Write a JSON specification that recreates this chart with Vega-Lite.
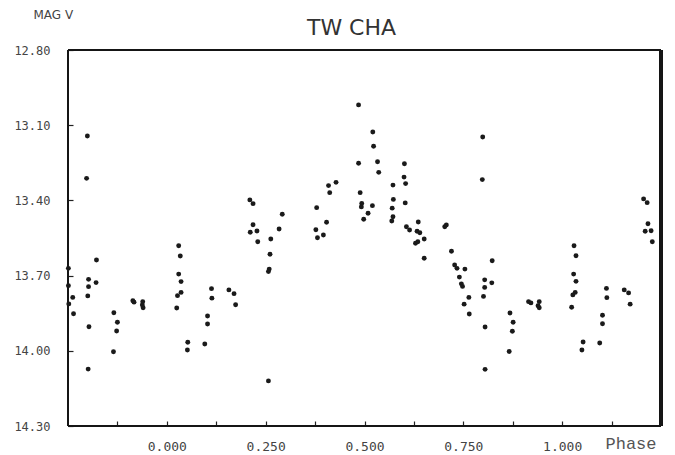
{
  "$schema": "https://vega.github.io/schema/vega-lite/v6.json",
  "width": 593,
  "height": 376,
  "autosize": "none",
  "padding": {"left": 68, "top": 50, "right": 14, "bottom": 29},
  "background": "white",
  "title": {
    "text": "TW CHA",
    "font": "DejaVu Sans",
    "fontSize": 22,
    "fontWeight": "normal",
    "color": "#333",
    "anchor": "middle",
    "dx": -13,
    "dy": 23,
    "offset": -26,
    "baseline": "alphabetic"
  },
  "data": {
    "values": [
      {"phase": -0.201, "mag": 13.143}, {"phase": -0.203, "mag": 13.312}, {"phase": -0.178, "mag": 13.638},
      {"phase": -0.249, "mag": 13.671}, {"phase": -0.198, "mag": 13.715}, {"phase": -0.198, "mag": 13.744},
      {"phase": -0.249, "mag": 13.740}, {"phase": -0.179, "mag": 13.728}, {"phase": -0.238, "mag": 13.787},
      {"phase": -0.200, "mag": 13.781}, {"phase": -0.248, "mag": 13.813}, {"phase": -0.236, "mag": 13.852},
      {"phase": -0.134, "mag": 13.848}, {"phase": -0.125, "mag": 13.886}, {"phase": -0.127, "mag": 13.921},
      {"phase": -0.135, "mag": 14.004}, {"phase": -0.197, "mag": 13.904}, {"phase": -0.199, "mag": 14.073},
      {"phase": -0.086, "mag": 13.800}, {"phase": -0.083, "mag": 13.806}, {"phase": -0.061, "mag": 13.804},
      {"phase": -0.062, "mag": 13.817}, {"phase": -0.060, "mag": 13.828}, {"phase": 0.030, "mag": 13.581},
      {"phase": 0.034, "mag": 13.622}, {"phase": 0.030, "mag": 13.694}, {"phase": 0.036, "mag": 13.724},
      {"phase": 0.036, "mag": 13.767}, {"phase": 0.027, "mag": 13.780}, {"phase": 0.025, "mag": 13.829},
      {"phase": 0.053, "mag": 13.966}, {"phase": 0.052, "mag": 13.997}, {"phase": 0.096, "mag": 13.973},
      {"phase": 0.103, "mag": 13.861}, {"phase": 0.103, "mag": 13.893}, {"phase": 0.113, "mag": 13.752},
      {"phase": 0.114, "mag": 13.790}, {"phase": 0.157, "mag": 13.757}, {"phase": 0.170, "mag": 13.772},
      {"phase": 0.174, "mag": 13.816}, {"phase": 0.210, "mag": 13.398}, {"phase": 0.218, "mag": 13.413},
      {"phase": 0.218, "mag": 13.497}, {"phase": 0.211, "mag": 13.527}, {"phase": 0.228, "mag": 13.522},
      {"phase": 0.230, "mag": 13.565}, {"phase": 0.263, "mag": 13.554}, {"phase": 0.292, "mag": 13.455},
      {"phase": 0.284, "mag": 13.514}, {"phase": 0.261, "mag": 13.615}, {"phase": 0.259, "mag": 13.674},
      {"phase": 0.257, "mag": 13.684}, {"phase": 0.257, "mag": 14.120}, {"phase": 0.379, "mag": 13.429},
      {"phase": 0.377, "mag": 13.517}, {"phase": 0.381, "mag": 13.549}, {"phase": 0.396, "mag": 13.538},
      {"phase": 0.404, "mag": 13.487}, {"phase": 0.409, "mag": 13.341}, {"phase": 0.412, "mag": 13.369},
      {"phase": 0.428, "mag": 13.328}, {"phase": 0.485, "mag": 13.019}, {"phase": 0.485, "mag": 13.252},
      {"phase": 0.489, "mag": 13.369}, {"phase": 0.493, "mag": 13.412}, {"phase": 0.492, "mag": 13.426},
      {"phase": 0.520, "mag": 13.421}, {"phase": 0.509, "mag": 13.451}, {"phase": 0.498, "mag": 13.475},
      {"phase": 0.521, "mag": 13.127}, {"phase": 0.523, "mag": 13.184}, {"phase": 0.533, "mag": 13.246},
      {"phase": 0.536, "mag": 13.288}, {"phase": 0.601, "mag": 13.254}, {"phase": 0.572, "mag": 13.339},
      {"phase": 0.600, "mag": 13.307}, {"phase": 0.604, "mag": 13.333}, {"phase": 0.573, "mag": 13.396},
      {"phase": 0.570, "mag": 13.431}, {"phase": 0.572, "mag": 13.465}, {"phase": 0.569, "mag": 13.482},
      {"phase": 0.603, "mag": 13.410}, {"phase": 0.606, "mag": 13.505}, {"phase": 0.614, "mag": 13.518},
      {"phase": 0.636, "mag": 13.486}, {"phase": 0.633, "mag": 13.523}, {"phase": 0.640, "mag": 13.529},
      {"phase": 0.629, "mag": 13.571}, {"phase": 0.635, "mag": 13.565}, {"phase": 0.651, "mag": 13.554},
      {"phase": 0.651, "mag": 13.631}, {"phase": 0.703, "mag": 13.505}, {"phase": 0.707, "mag": 13.498},
      {"phase": 0.720, "mag": 13.603}, {"phase": 0.728, "mag": 13.658}, {"phase": 0.734, "mag": 13.671},
      {"phase": 0.754, "mag": 13.674}, {"phase": 0.740, "mag": 13.706}, {"phase": 0.745, "mag": 13.733},
      {"phase": 0.748, "mag": 13.743}, {"phase": 0.764, "mag": 13.787}, {"phase": 0.752, "mag": 13.814},
      {"phase": 0.765, "mag": 13.853}, {"phase": 0.799, "mag": 13.147}, {"phase": 0.798, "mag": 13.317},
      {"phase": 0.823, "mag": 13.641}, {"phase": 0.804, "mag": 13.717}, {"phase": 0.804, "mag": 13.747},
      {"phase": 0.822, "mag": 13.729}, {"phase": 0.801, "mag": 13.783}, {"phase": 0.805, "mag": 13.905},
      {"phase": 0.805, "mag": 14.074}, {"phase": 0.868, "mag": 13.849}, {"phase": 0.876, "mag": 13.886},
      {"phase": 0.874, "mag": 13.922}, {"phase": 0.866, "mag": 14.003}, {"phase": 0.915, "mag": 13.804},
      {"phase": 0.921, "mag": 13.809}, {"phase": 0.942, "mag": 13.804}, {"phase": 0.939, "mag": 13.820},
      {"phase": 0.942, "mag": 13.828}, {"phase": 1.030, "mag": 13.581}, {"phase": 1.035, "mag": 13.621},
      {"phase": 1.029, "mag": 13.694}, {"phase": 1.035, "mag": 13.723}, {"phase": 1.033, "mag": 13.767},
      {"phase": 1.027, "mag": 13.777}, {"phase": 1.024, "mag": 13.826}, {"phase": 1.053, "mag": 13.965},
      {"phase": 1.050, "mag": 13.997}, {"phase": 1.095, "mag": 13.969}, {"phase": 1.102, "mag": 13.858},
      {"phase": 1.102, "mag": 13.892}, {"phase": 1.112, "mag": 13.751}, {"phase": 1.113, "mag": 13.788},
      {"phase": 1.157, "mag": 13.757}, {"phase": 1.168, "mag": 13.769}, {"phase": 1.172, "mag": 13.814},
      {"phase": 1.206, "mag": 13.394}, {"phase": 1.215, "mag": 13.409}, {"phase": 1.217, "mag": 13.493},
      {"phase": 1.210, "mag": 13.523}, {"phase": 1.225, "mag": 13.521}, {"phase": 1.228, "mag": 13.565}
    ]
  },
  "layer": [
    {
      "mark": {"type": "rule", "color": "#151515", "strokeWidth": 2.2},
      "encoding": {"x": {"datum": 1.25, "type": "quantitative"}}
    },
    {
      "mark": {"type": "rule", "color": "#151515", "strokeWidth": 2.2},
      "encoding": {"y": {"datum": 12.8, "type": "quantitative"}}
    },
    {
      "mark": {"type": "rule", "color": "#151515", "strokeWidth": 2},
      "encoding": {"x": {"datum": -0.25, "type": "quantitative"}}
    },
    {
      "mark": {"type": "rule", "color": "#151515", "strokeWidth": 2},
      "encoding": {"y": {"datum": 14.3, "type": "quantitative"}}
    },
    {
      "mark": {"type": "point", "filled": true, "size": 24, "color": "#1a1a1a", "opacity": 1},
      "encoding": {
        "x": {
          "field": "phase",
          "type": "quantitative",
          "scale": {"domain": [-0.25, 1.25], "nice": false, "zero": false},
          "axis": {
            "title": "Phase",
            "titleFont": "Liberation Mono",
            "titleFontSize": 17,
            "titleFontWeight": "normal",
            "titleColor": "#555",
            "titleAlign": "left",
            "titleBaseline": "alphabetic",
            "titleAnchor": null,
            "titleX": 537,
            "titleY": 27,
            "offset": -5,
            "domain": false,
            "values": [-0.125, 0, 0.125, 0.25, 0.375, 0.5, 0.625, 0.75, 0.875, 1, 1.125],
            "labelExpr": "(datum.value*4 == round(datum.value*4) && datum.value >= 0) ? format(datum.value, '.3f') : ''",
            "labelFont": "DejaVu Sans Mono",
            "labelFontSize": 13,
            "labelColor": "#444",
            "labelOverlap": false,
            "labelFlush": false,
            "labelPadding": 14,
            "tickSize": 5,
            "tickWidth": 1.2,
            "tickColor": "#222",
            "grid": false
          }
        },
        "y": {
          "field": "mag",
          "type": "quantitative",
          "scale": {"domain": [12.8, 14.3], "reverse": true, "nice": false, "zero": false},
          "axis": {
            "title": "MAG V",
            "titleFont": "DejaVu Sans",
            "titleFontSize": 12,
            "titleFontWeight": "normal",
            "titleColor": "#444",
            "titleAngle": 0,
            "titleAlign": "left",
            "titleBaseline": "alphabetic",
            "titleAnchor": null,
            "titleX": -40,
            "titleY": -32,
            "offset": -5,
            "domain": false,
            "values": [12.8, 12.95, 13.1, 13.25, 13.4, 13.55, 13.7, 13.85, 14, 14.15, 14.3],
            "labelExpr": "round(datum.value*100) % 30 == 20 ? format(datum.value, '.2f') : ''",
            "labelFont": "DejaVu Sans Mono",
            "labelFontSize": 12,
            "labelColor": "#444",
            "labelOverlap": false,
            "labelFlush": false,
            "labelPadding": 18,
            "tickSize": 5,
            "tickWidth": 1.2,
            "tickColor": "#222",
            "grid": false
          }
        }
      }
    }
  ],
  "config": {
    "view": {"stroke": null}
  }
}
